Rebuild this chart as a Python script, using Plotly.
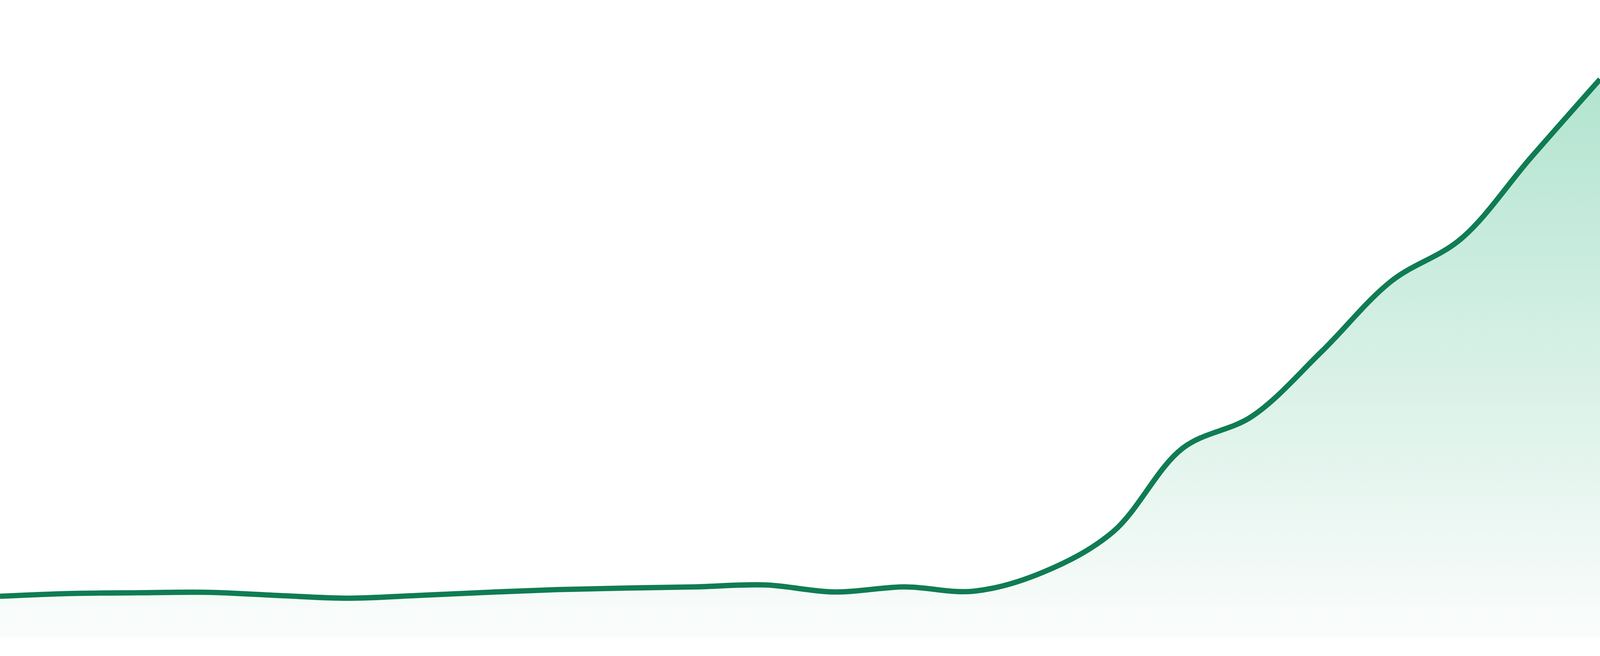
import plotly.graph_objects as go

# sampled points along the curve, left to right (no axes shown in the original)
periods = list(range(24))
values = [105, 112, 114, 115, 107, 100, 107, 115, 122, 126, 129, 134,
          116, 129, 118, 167, 270, 484, 566, 732, 912, 1020, 1227, 1429]

line_color = "#107c53"
fill_top = "rgb(178,228,208)"
fill_bottom = "rgb(250,252,251)"

fig = go.Figure(
    data=go.Scatter(
        x=periods,
        y=values,
        mode="lines",
        line=dict(color=line_color, width=16, shape="spline"),
        fill="tozeroy",
        fillgradient=dict(
            type="vertical",
            colorscale=[[0, fill_bottom], [1, fill_top]],
            start=0,
            stop=max(values),
        ),
        hoverinfo="skip",
    )
)

# no margins: the white strip under the fill comes from the y range going below 0
fig.update_layout(
    margin=dict(l=0, r=0, t=0, b=0),
    paper_bgcolor="white",
    plot_bgcolor="white",
    showlegend=False,
    xaxis=dict(visible=False, range=[0, len(periods) - 1]),
    yaxis=dict(visible=False, range=[-48, 1632]),
)

# fill the whole window, whatever its css size, and keep the line weight in step
fit_window = """
document.body.style.margin = '0';
document.body.style.overflow = 'hidden';
var gd = document.getElementById('{plot_id}');
var s = window.innerWidth / 4800;
Plotly.relayout(gd, {width: window.innerWidth, height: window.innerHeight});
Plotly.restyle(gd, {'line.width': 16 * s});
"""

fig.write_html("out.html", config={"displayModeBar": False}, post_script=fit_window)
